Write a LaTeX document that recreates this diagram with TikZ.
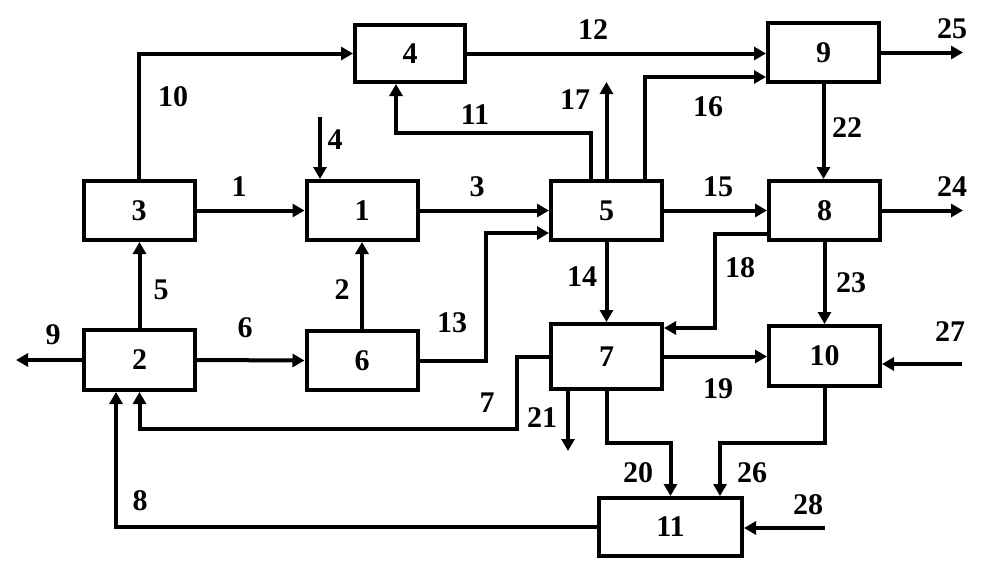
\documentclass[tikz,border=0pt]{standalone}
\usepackage{fontspec}
\setmainfont{Liberation Serif}
\usetikzlibrary{arrows.meta}
\begin{document}
\begin{tikzpicture}[x=1pt,y=-1pt,
  box/.style={draw,line width=4pt,minimum width=111pt,minimum height=59pt,inner sep=0pt,font=\fontsize{30}{30}\bfseries\selectfont},
  arr/.style={line width=4pt,-{Triangle[length=12pt,width=13pt]}},
  lbl/.style={font=\fontsize{30}{30}\bfseries\selectfont,inner sep=0pt}]
\useasboundingbox (0,0) rectangle (1006,563);
% boxes
\node[box] (b1) at (362,210.5) {1};
\node[box,minimum height=60pt] (b2) at (139.5,360) {2};
\node[box] (b3) at (139,210.5) {3};
\node[box,minimum width=110pt,minimum height=57pt] (b4) at (410,53.5) {4};
\node[box] (b5) at (606.5,210.5) {5};
\node[box] (b6) at (362,360.5) {6};
\node[box,minimum height=65pt] (b7) at (606.5,356.5) {7};
\node[box] (b8) at (824.5,210.5) {8};
\node[box] (b9) at (823.5,52.5) {9};
\node[box,minimum height=60pt] (b10) at (824.5,356) {10};
\node[box,minimum width=143pt,minimum height=58pt] (b11) at (670.5,527) {11};
% free ends
\coordinate (in4) at (320,117);
\coordinate (in27) at (962,364);
\coordinate (in28) at (825,528);
% connectors
\draw[arr] (b3.north) |- (b4.west);
\draw[arr] (b3.east) -- (b1.west);
\draw[arr] (in4) -- (in4 |- b1.north);
\draw[arr] (b1.east) -- (b5.west);
\draw[arr] ([xshift=-15.5pt]b5.north) -- ++(0,-46) -| ([xshift=-14pt]b4.south);
\draw[arr] (b4.east) -- (b4.east -| b9.west);
\draw[arr] (b5.north) -- ++(0,-97);
\draw[arr] ([xshift=38.5pt]b5.north) |- ([yshift=-24.5pt]b9.west);
\draw[arr] (b9.east) -- ++(82,0);
\draw[arr] (b9.south) -- (b9.south |- b8.north);
\draw[arr] (b5.east) -- (b8.west);
\draw[arr] (b8.east) -- ++(81,0);
\draw[arr] (b6.east) -- ++(66,0) |- ([yshift=-22.5pt]b5.west);
\draw[arr] ([yshift=-23.5pt]b8.west) -- ++(-52,0) |- ([yshift=28.5pt]b7.east);
\draw[arr] (b5.south) -- (b7.north);
\draw[arr] (b8.south) -- (b10.north);
\draw[arr] (b2.north) -- (b2.north |- b3.south);
\draw[arr] (b6.north) -- (b1.south);
\draw[arr] (b2.east) -- (b6.west);
\draw[arr] (b2.west) -- ++(-66,0);
\draw[arr] (b7.west) -- ++(-32,0) -- ++(0,72) -| (b2.south);
\draw[arr] (b11.west) -| ([xshift=-23.5pt]b2.south);
\draw[arr] (b7.east) -- (b7.east -| b10.west);
\draw[arr] (in27) -- (in27 -| b10.east);
\draw[arr] ([xshift=-38.5pt]b7.south) -- ++(0,60);
\draw[arr] (b7.south) -- ++(0,52) -| (b11.north);
\draw[arr] (b10.south) -- ++(0,55) -| ([xshift=49.5pt]b11.north);
\draw[arr] (in28) -- (in28 -| b11.east);
% labels
\node[lbl] (l1) at (239,187) {1};
\node[lbl] (l2) at (342,290) {2};
\node[lbl] (l3) at (477,187) {3};
\node[lbl] (l4) at (335,140) {4};
\node[lbl] (l5) at (161,290) {5};
\node[lbl] (l6) at (245,328) {6};
\node[lbl] (l7) at (487,403) {7};
\node[lbl] (l8) at (140,501) {8};
\node[lbl] (l9) at (53,335) {9};
\node[lbl] (l10) at (173,97) {10};
\node[lbl] (l11) at (475,115) {11};
\node[lbl] (l12) at (593,30) {12};
\node[lbl] (l13) at (452,323) {13};
\node[lbl] (l14) at (582,277) {14};
\node[lbl] (l15) at (718,187) {15};
\node[lbl] (l16) at (708,107) {16};
\node[lbl] (l17) at (575,100) {17};
\node[lbl] (l18) at (740,268) {18};
\node[lbl] (l19) at (718,389) {19};
\node[lbl] (l20) at (638,473) {20};
\node[lbl] (l21) at (542,418) {21};
\node[lbl] (l22) at (847,128) {22};
\node[lbl] (l23) at (851,283) {23};
\node[lbl] (l24) at (952,187) {24};
\node[lbl] (l25) at (952,29) {25};
\node[lbl] (l26) at (752,473) {26};
\node[lbl] (l27) at (950,332) {27};
\node[lbl] (l28) at (808,505) {28};
\end{tikzpicture}
\end{document}
